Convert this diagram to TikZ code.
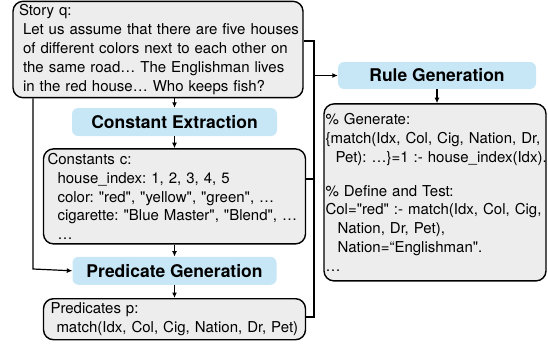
\documentclass[tikz,border=0pt]{standalone}
\usepackage{fontspec}
\setmainfont{TeX Gyre Heros}[Ligatures=TeXOff]
\usepackage{xcolor}
\usetikzlibrary{arrows.meta,positioning}
\definecolor{boxgray}{HTML}{EDEDED}
\definecolor{stageblue}{HTML}{C8E7F6}
\newcommand{\indt}[1]{\hspace*{#1}}
\frenchspacing
\tikzset{
  textbox/.style={rectangle,rounded corners=10pt,draw=black,line width=1.4pt,fill=boxgray,
    align=left,font=\fontsize{15}{18.8}\selectfont},
  stage/.style={rectangle,rounded corners=6pt,fill=stageblue,minimum width=204pt,
    minimum height=28pt,font=\fontsize{17.5}{20}\selectfont\bfseries},
  arrow/.style={-{Latex[length=5.5pt,width=5pt]},line width=1.2pt,draw=black},
  link/.style={line width=1.2pt,draw=black}
}

\begin{document}
\begin{tikzpicture}[x=1pt,y=-1pt]
\useasboundingbox (0,0) rectangle (548,343);
\node[textbox,text width=278pt,inner xsep=6pt,minimum height=95pt] (story) at (158,49.5)
  {Story q:\\
   \mbox{\indt{4pt}Let us assume that there are five houses}\\
   \mbox{\indt{4pt}of different colors next to each other on}\\
   \mbox{\indt{4pt}the same road… The Englishman lives}\\
   \mbox{\indt{4pt}in the red house… Who keeps fish?}};
\node[stage,minimum width=205pt] (constExtr) at (174.5,122) {Constant Extraction};
\node[textbox,below=12pt of constExtr,text width=254pt,inner xsep=4pt,minimum height=95pt] (constants)
  {Constants c:\\
   \indt{10pt}house\_index: 1, 2, 3, 4, 5\\
   \indt{10pt}color: "red", "yellow", "green", …\\
   \mbox{\indt{10pt}cigarette: "Blue Master", "Blend", …}\\
   \indt{10pt}…};
\node[stage,below=12pt of constants] (predGen) {Predicate Generation};
\node[textbox,below=13pt of predGen,text width=248pt,inner xsep=7pt,minimum height=41pt] (predicates)
  {Predicates p:\\
   \mbox{\indt{6pt}match(Idx, Col, Cig, Nation, Dr, Pet)}};
\node[stage,minimum width=198pt,minimum height=27pt] (ruleGen) at (437,75.5) {Rule Generation};
\node[textbox,below=14pt of ruleGen,xshift=-2pt,text width=219pt,inner xsep=1.5pt,minimum height=177pt] (rule)
  {\% Generate:\\
   \mbox{\{match(Idx, Col, Cig, Nation, Dr,}\\
   \mbox{\indt{10pt}Pet): …\}=1 :- house\_index(Idx).}\\[15pt]
   \% Define and Test:\\
   \mbox{Col="red" :- match(Idx, Col, Cig,}\\
   \indt{12pt}Nation, Dr, Pet),\\
   \indt{12pt}Nation=“Englishman".\\
   …};
% bus to the rule step
\coordinate (busTop) at (314,41);
\coordinate (busMid) at (314,179);
\coordinate (busBot) at (314,317);
\coordinate (leftTurn) at (33,269);
\draw[link] (story.east |- busTop) -- (busTop) -- (busBot) -- (predicates.east |- busBot);
\draw[link] (constants.east |- busMid) -- (busMid);
\draw[arrow] (busTop |- ruleGen.west) -- (ruleGen.west);
\draw[arrow] (story.south -| leftTurn) -- (leftTurn) -- (predGen.west);
\draw[arrow] (constExtr.north |- story.south) -- (constExtr.north);
\draw[arrow] (constExtr) -- (constants);
\draw[arrow] (constants) -- (predGen);
\draw[arrow] (predGen) -- (predicates);
\draw[arrow] (ruleGen.south) -- (ruleGen.south |- rule.north);
\end{tikzpicture}
\end{document}
